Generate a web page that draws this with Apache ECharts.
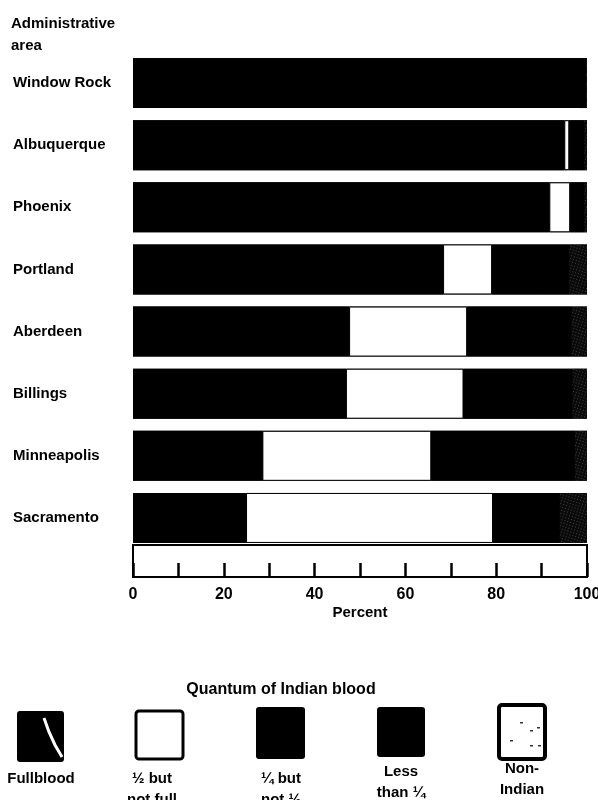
<!DOCTYPE html>
<html>
<head>
<meta charset="utf-8">
<script src="https://cdn.jsdelivr.net/npm/echarts@6/dist/echarts.min.js"></script>
<style>
html,body{margin:0;padding:0;background:#fff;}
#c{width:598px;height:800px;}
</style>
</head>
<body>
<div id="c"></div>
<script>
// ---- data ----
var areas = ['Window Rock','Albuquerque','Phoenix','Portland','Aberdeen','Billings','Minneapolis','Sacramento'];
var seriesNames = ['Fullblood','½ but not full','¼ but not ½','Less than ¼','Non-Indian'];
var legendLabels = ['Fullblood','½ but\nnot full','¼ but\nnot ½','Less\nthan ¼','Non-\nIndian'];
var fullblood    = [98.6, 95.0, 91.7, 68.3, 47.6, 46.9, 28.5, 24.9];
var halfNotFull  = [0.0,  1.1,  4.6, 10.8, 26.0, 25.9, 37.2, 54.4];
var quarterNotHalf=[0.8,  2.2,  2.1, 11.0, 16.0, 16.0, 22.0,  9.0];
var lessQuarter  = [0.4,  1.1,  1.0,  6.0,  7.0,  8.0,  9.6,  5.7];
var nonIndian    = [0.2,  0.6,  0.6,  3.9,  3.4,  3.2,  2.7,  6.0];
var xTicks = [0,20,40,60,80,100];

var values = [fullblood, halfNotFull, quarterNotHalf, lessQuarter, nonIndian];
var FONT = '"Liberation Sans Narrow", "Liberation Sans", Arial, sans-serif';

var fills = ['#000','#fff','#000','#000','#0a0a0a'];
var series = seriesNames.map(function(n,i){
  var s = {
    name: n, type: 'bar', stack: 'total', barWidth: 50,
    xAxisIndex: 0, yAxisIndex: 0,
    itemStyle: { color: fills[i] },
    emphasis: { disabled: true },
    data: values[i]
  };
  if (i === 0) {
    s.showBackground = true;
    s.backgroundStyle = { color: '#000' };
  }
  if (i === 1) {
    s.itemStyle.borderColor = '#000';
    s.itemStyle.borderWidth = 1;
  }
  if (i === 4) {
    s.itemStyle.decal = {
      symbol: 'rect', symbolSize: 0.55,
      color: 'rgba(255,255,255,0.8)',
      dashArrayX: [1, 2], dashArrayY: [1, 2], rotation: 0.3
    };
  }
  return s;
});

// legend graphics
var boxes = [
  {x:17, y:711, w:47, h:51, fill:'#000', stroke:null},
  {x:136, y:711, w:47, h:48, fill:'#fff', stroke:'#000', lw:3},
  {x:256, y:707, w:49, h:52, fill:'#000', stroke:null},
  {x:377, y:707, w:48, h:50, fill:'#000', stroke:null},
  {x:499, y:705, w:46, h:54, fill:'#fff', stroke:'#000', lw:4}
];
var labelPos = [[41,768],[152,768],[281,768],[401,761],[522,758]];
var LFONT = 'bold 15px ' + FONT;
var graphics = [
  {type:'text', left:11, top:13, style:{text:'Administrative\narea', font:LFONT, fill:'#000', lineHeight:22}},
  {type:'text', x:281, y:690, style:{text:'Quantum of Indian blood', font:'bold 16px '+FONT, fill:'#000', align:'center', verticalAlign:'middle'}}
];
boxes.forEach(function(b,i){
  graphics.push({type:'rect', shape:{x:b.x, y:b.y, width:b.w, height:b.h, r:3},
    style:{fill:b.fill, stroke:b.stroke||null, lineWidth:b.lw||0}});
  graphics.push({type:'text', x:labelPos[i][0], y:labelPos[i][1],
    style:{text:legendLabels[i], font:LFONT, fill:'#000', align:'center', verticalAlign:'top', lineHeight:21}});
});
// streak in fullblood legend box
graphics.push({type:'polyline', shape:{points:[[44,718],[49,732],[55,745],[62,757]]}, style:{stroke:'#fff', lineWidth:3, fill:null}});
// speckles in non-indian box
[[520,722],[530,730],[537,727],[530,745],[538,745],[510,740]].forEach(function(p){
  graphics.push({type:'rect', shape:{x:p[0], y:p[1], width:3, height:1.5}, style:{fill:'#333'}});
});

var chart = echarts.init(document.getElementById('c'), null, {renderer:'canvas'});
chart.setOption({
  backgroundColor: '#fff',
  animation: false,
  grid: [
    {left:133, right:11, top:52, height:497, outerBoundsMode:'none', containLabel:false},
    {left:133, right:11, top:545, height:32, show:true, borderColor:'#000', borderWidth:2, backgroundColor:'#fff', outerBoundsMode:'none', containLabel:false}
  ],
  xAxis: [
    {gridIndex:0, type:'value', min:0, max:100, show:false},
    {gridIndex:1, type:'value', min:0, max:100, interval:10,
      axisLine:{show:true, lineStyle:{color:'#000', width:2}},
      axisTick:{show:true, inside:true, length:14, lineStyle:{color:'#000', width:2.5}},
      splitLine:{show:false},
      axisLabel:{color:'#000', margin:10, fontFamily:FONT, fontWeight:'bold', fontSize:16,
        formatter:function(v){ return xTicks.indexOf(v) >= 0 ? String(v) : ''; }},
      name:'Percent', nameLocation:'middle', nameGap:28,
      nameTextStyle:{color:'#000', fontFamily:FONT, fontWeight:'bold', fontSize:15}
    }
  ],
  yAxis: [
    {gridIndex:0, type:'category', inverse:true, data:areas,
      axisLine:{show:false}, axisTick:{show:false}, splitLine:{show:false},
      axisLabel:{align:'left', margin:120, color:'#000', fontFamily:FONT, fontWeight:'bold', fontSize:15}
    },
    {gridIndex:1, type:'value', show:false, min:0, max:1}
  ],
  graphic: graphics,
  series: series
});
</script>
</body>
</html>
